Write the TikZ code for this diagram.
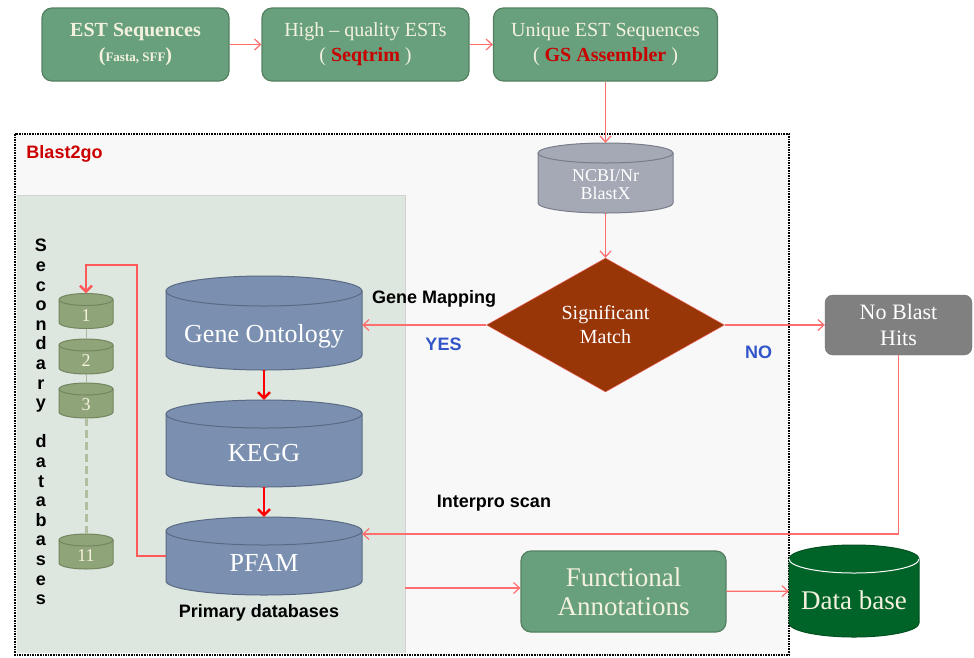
\documentclass[tikz,border=0pt]{standalone}
\usepackage{fontspec}
\setmainfont{Liberation Serif}
\setsansfont{Liberation Sans}
\usetikzlibrary{positioning, arrows.meta, shapes.geometric, calc}

\definecolor{boxgreen}{RGB}{104,160,126}
\definecolor{boxedge}{RGB}{84,128,96}
\definecolor{cream}{RGB}{244,242,222}
\definecolor{seqred}{RGB}{200,0,0}
\definecolor{flowred}{RGB}{255,110,110}
\definecolor{dbblue}{RGB}{123,144,176}
\definecolor{dbblueedge}{RGB}{90,106,132}
\definecolor{ncbigray}{RGB}{165,168,181}
\definecolor{ncbiedge}{RGB}{120,124,136}
\definecolor{matchbrown}{RGB}{153,54,8}
\definecolor{hitgray}{RGB}{128,128,128}
\definecolor{secgreen}{RGB}{143,164,120}
\definecolor{secedge}{RGB}{115,134,96}
\definecolor{dbgreen}{RGB}{0,100,40}
\definecolor{panelgreen}{RGB}{221,231,224}
\definecolor{areagray}{RGB}{248,248,248}
\definecolor{yesblue}{RGB}{50,85,200}
\definecolor{blastred}{RGB}{204,0,0}

% text sunk into the body of a drum
\newcommand{\sunk}[2]{\raisebox{-#1}[0pt][0pt]{#2}}
% drum: centre, half width, half height, top radius, style, front rim colour
\newcommand{\drum}[6]{%
    \draw[#5] ($(#1)+(-#2,-#3+#4)$) -- ($(#1)+(-#2,#3-#4)$)
        arc[start angle=180, end angle=360, x radius=#2pt, y radius=#4pt]
        -- ($(#1)+(#2,-#3+#4)$)
        arc[start angle=0, end angle=180, x radius=#2pt, y radius=#4pt] -- cycle;
    \draw[#5, draw=#6] ($(#1)+(-#2,-#3+#4)$) arc[start angle=180, end angle=360, x radius=#2pt, y radius=#4pt];
}

\begin{document}
\begin{tikzpicture}[x=1pt, y=-1pt]
        % Definitions
        \def\colX{605.5}
        \def\dbX{264}
        \def\secX{86}

        % Styles
        \tikzstyle{stepbox} = [draw=boxedge, fill=boxgreen, line width=1.2pt, rounded corners=10pt, text=cream, align=center, inner sep=0pt, font=\fontsize{20}{25}\selectfont]
        \tikzstyle{slot} = [inner sep=0pt, text=white]
        \tikzstyle{bigdrum} = [draw=dbblueedge, fill=dbblue, line width=1pt]
        \tikzstyle{secdrum} = [draw=secedge, fill=secgreen, line width=1pt]
        \tikzstyle{flow} = [draw=flowred, line width=1.2pt, -{Straight Barb[length=6pt, width=11pt]}]
        \tikzstyle{boldflow} = [draw=red, line width=2.4pt, -{Straight Barb[length=6pt, width=12pt]}]
        \tikzstyle{tag} = [font=\sffamily\bfseries\fontsize{18}{19.6}\selectfont]

        \useasboundingbox (0,0) rectangle (974,657);

        % Blast2go area
        \draw[fill=areagray, line width=1.6pt, densely dotted] (15,134) rectangle (789,655);
        \fill[panelgreen] (17,195) rectangle (405,653);
        \draw[black!18] (17,195) -- (405,195) -- (405,653);
        \node[tag, text=blastred] (blast) at (64.5,154) {Blast2go};

        % Input steps
        \node[stepbox, minimum width=187pt, minimum height=73pt] (est) at (135.5,44.5) {\textbf{EST Sequences}\\\textbf{(}{\bfseries\fontsize{13}{15}\selectfont Fasta, SFF}\textbf{)}};
        \node[stepbox, minimum width=207pt, minimum height=73pt] (hq) at (365.5,44.5) {High -- quality ESTs\\( \textcolor{seqred}{\textbf{Seqtrim}} )};
        \node[stepbox, minimum width=224pt, minimum height=73pt] (uniq) at (\colX,44.5) {Unique EST Sequences\\( \textcolor{seqred}{\textbf{GS Assembler}} )};

        % Blast and decision
        \coordinate (ncbic) at (\colX,178);
        \drum{ncbic}{67.5}{35}{10}{draw=ncbiedge, fill=ncbigray, line width=1pt}{ncbiedge}
        \node[slot, minimum width=135pt, minimum height=70pt, font=\fontsize{18}{18}\selectfont] (ncbi) at (ncbic) {\sunk{13pt}{\begin{tabular}{@{}c@{}}NCBI/Nr\\BlastX\end{tabular}}};
        \node[diamond, fill=matchbrown, draw=flowred, inner sep=0pt, minimum width=238pt, minimum height=134pt, text=white, align=center, font=\fontsize{20}{24}\selectfont] (match) at (\colX,325) {Significant\\Match};
        \node[rounded corners=8pt, fill=hitgray, draw=hitgray!85!black, inner sep=0pt, minimum width=147pt, minimum height=60pt, text=white, align=center, font=\fontsize{22}{26}\selectfont] (nohits) at (898.5,325) {No Blast\\Hits};

        % Primary databases
        \coordinate (goc) at (\dbX,323);
        \coordinate (keggc) at (\dbX,443.5);
        \coordinate (pfamc) at (\dbX,556);
        \drum{goc}{98}{47}{15}{bigdrum}{dbblueedge}
        \drum{keggc}{98}{43.5}{14}{bigdrum}{dbblueedge}
        \drum{pfamc}{98}{39}{14}{bigdrum}{dbblueedge}
        \node[slot, minimum width=196pt, minimum height=94pt, font=\fontsize{26}{30}\selectfont] (go) at (goc) {\sunk{19.5pt}{Gene Ontology}};
        \node[slot, minimum width=196pt, minimum height=87pt, font=\fontsize{26}{30}\selectfont] (kegg) at (keggc) {\sunk{18pt}{KEGG}};
        \node[slot, minimum width=196pt, minimum height=78pt, font=\fontsize{26}{30}\selectfont] (pfam) at (pfamc) {\sunk{15.5pt}{PFAM}};
        \node[tag] (primary) at (259,613) {Primary databases};

        % Secondary databases
        \foreach \n/\y in {1/311, 2/356.5, 3/400.5, 11/551.5} {
            \coordinate (sec\n c) at (\secX,\y);
            \drum{sec\n c}{27}{17.5}{6}{secdrum}{secedge}
            \node[slot, text=cream, minimum width=54pt, minimum height=35pt, font=\fontsize{18}{20}\selectfont] (sec\n) at (sec\n c) {\sunk{10pt}{\n}};
        }
        \draw[secedge!60] (sec1) -- (sec2);
        \draw[secedge!60] (sec2) -- (sec3);
        \draw[secgreen!70!white, line width=3pt, dash pattern=on 8pt off 4pt] (sec3) -- (sec11);
        \node[tag, align=center] (sectitle) at (41,422) {S\\e\\c\\o\\n\\d\\a\\r\\y\\[19.6pt]d\\a\\t\\a\\b\\a\\s\\e\\s};

        % Output
        \node[stepbox, minimum width=205pt, minimum height=81pt, font=\fontsize{27}{29}\selectfont] (fa) at (623.5,591.5) {Functional\\Annotations};
        \coordinate (dbc) at (854,591);
        \drum{dbc}{65}{46}{14}{draw=dbgreen!80!black, fill=dbgreen, line width=1pt}{white}
        \node[slot, text=cream, minimum width=130pt, minimum height=92pt, font=\fontsize{27}{30}\selectfont] (db) at (dbc) {\sunk{18pt}{Data base}};

        % Labels
        \node[tag] (genemap) at (434,299) {Gene Mapping};
        \node[tag, text=yesblue] (yes) at (443.5,344) {YES};
        \node[tag, text=yesblue] (no) at (758.5,352) {NO};
        \node[tag] (interpro) at (494,503) {Interpro scan};

        % Connectors
        \coordinate (iprow) at (0,534);
        \coordinate (secbend) at (137,265);
        \coordinate (panelout) at (405,588);
        \draw[flow] (est) -- (hq);
        \draw[flow] (hq) -- (uniq);
        \draw[flow] (uniq) -- (ncbi);
        \draw[flow] (ncbi) -- (match);
        \draw[flow] (match.west) -- (match.west -| go.east);
        \draw[flow] (match) -- (nohits);
        \draw[boldflow] (go) -- (kegg);
        \draw[boldflow] (kegg) -- (pfam);
        \draw[flow] (nohits.south) -- (nohits.south |- iprow) -- (iprow -| pfam.east);
        \draw[boldflow, draw=red!65] (pfam.west) -| (secbend) -| (sec1.north);
        \draw[flow] (panelout) -- (panelout -| fa.west);
        \draw[flow] (fa) -- (db);

    \end{tikzpicture}
\end{document}
